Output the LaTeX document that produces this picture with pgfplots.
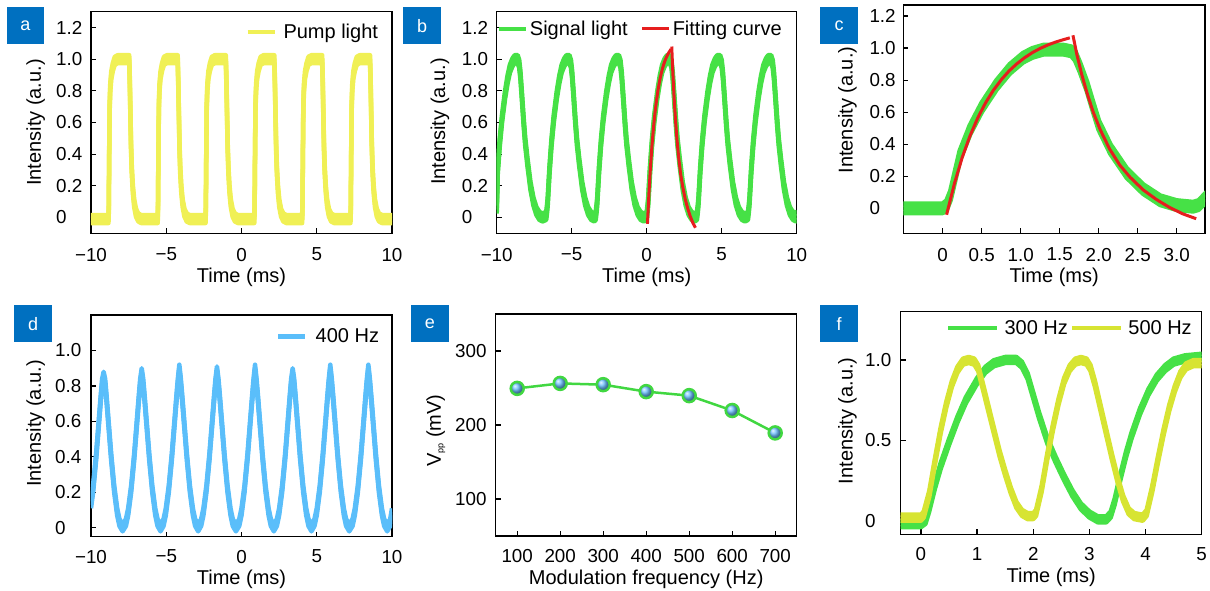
\documentclass[border=0pt]{standalone}
\usepackage{fontspec}
\setmainfont{Liberation Sans}
\usepackage{pgfplots}
\usepackage{pgfplotstable}
\pgfplotsset{compat=1.18}

\definecolor{pumpY}{RGB}{240,240,85}
\definecolor{sigG}{RGB}{70,225,70}
\definecolor{fitR}{RGB}{230,30,30}
\definecolor{dBlue}{RGB}{90,190,250}
\definecolor{fY}{RGB}{215,228,50}
\definecolor{eG}{RGB}{65,215,65}
\definecolor{eBall}{RGB}{105,190,255}
\definecolor{labBlue}{RGB}{0,112,192}

\newcommand{\band}[3]{%
  \addplot[#1, forget plot, yshift=#3] table {#2};
  \addplot[#1, forget plot, yshift=-#3] table {#2};
  \addplot[#1] table {#2};
}

\pgfplotstableread{
x y
-10 -0.01
-8.84 -0.01
-8.82 0.05
-8.79 0.4
-8.76 0.7
-8.72 0.82
-8.65 0.9
-8.55 0.95
-8.42 0.99
-8.22 1.0
-7.46 1.0
-7.42 0.85
-7.38 0.65
-7.34 0.45
-7.29 0.3
-7.22 0.18
-7.13 0.09
-7.01 0.03
-6.86 0.0
-6.66 -0.01
-5.57 -0.01
-5.55 0.05
-5.52 0.4
-5.49 0.7
-5.45 0.82
-5.38 0.9
-5.28 0.95
-5.15 0.99
-4.95 1.0
-4.24 1.0
-4.20 0.85
-4.16 0.65
-4.12 0.45
-4.07 0.3
-4.00 0.18
-3.91 0.09
-3.79 0.03
-3.64 0.0
-3.44 -0.01
-2.39 -0.01
-2.37 0.05
-2.34 0.4
-2.31 0.7
-2.27 0.82
-2.20 0.9
-2.10 0.95
-1.97 0.99
-1.77 1.0
-1.04 1.0
-1.00 0.85
-0.96 0.65
-0.92 0.45
-0.87 0.3
-0.80 0.18
-0.71 0.09
-0.59 0.03
-0.44 0.0
-0.24 -0.01
0.85 -0.01
0.87 0.05
0.90 0.4
0.93 0.7
0.97 0.82
1.04 0.9
1.14 0.95
1.27 0.99
1.47 1.0
2.18 1.0
2.22 0.85
2.26 0.65
2.30 0.45
2.35 0.3
2.42 0.18
2.51 0.09
2.63 0.03
2.78 0.0
2.98 -0.01
4.03 -0.01
4.05 0.05
4.08 0.4
4.11 0.7
4.15 0.82
4.22 0.9
4.32 0.95
4.45 0.99
4.65 1.0
5.36 1.0
5.40 0.85
5.44 0.65
5.48 0.45
5.53 0.3
5.60 0.18
5.69 0.09
5.81 0.03
5.96 0.0
6.16 -0.01
7.24 -0.01
7.26 0.05
7.29 0.4
7.32 0.7
7.36 0.82
7.43 0.9
7.53 0.95
7.66 0.99
7.86 1.0
8.54 1.0
8.58 0.85
8.62 0.65
8.66 0.45
8.71 0.3
8.78 0.18
8.87 0.09
8.99 0.03
9.14 0.0
9.34 -0.01
10 -0.01
}\pumpdata

\pgfplotstableread{
x y
-10 0.05
-9.93 0.3
-9.80 0.47
-9.65 0.62
-9.45 0.77
-9.28 0.87
-9.12 0.94
-8.95 0.98
-8.80 1.0
-8.60 1.0
-8.50 0.97
-8.42 0.9
-8.33 0.78
-8.20 0.6
-8.10 0.48
-7.95 0.35
-7.75 0.2
-7.55 0.1
-7.35 0.04
-7.15 0.01
-6.95 0.0
-6.70 0.01
-6.65 0.05
-6.60 0.1
-6.48 0.3
-6.35 0.47
-6.20 0.62
-6.00 0.77
-5.83 0.87
-5.67 0.94
-5.50 0.98
-5.35 1.0
-5.15 1.0
-5.05 0.97
-4.97 0.9
-4.88 0.78
-4.75 0.6
-4.65 0.48
-4.50 0.35
-4.30 0.2
-4.10 0.1
-3.90 0.04
-3.70 0.01
-3.50 0.0
-3.40 0.01
-3.35 0.05
-3.30 0.1
-3.18 0.3
-3.05 0.47
-2.90 0.62
-2.70 0.77
-2.53 0.87
-2.37 0.94
-2.20 0.98
-2.05 1.0
-1.85 1.0
-1.75 0.97
-1.67 0.9
-1.58 0.78
-1.45 0.6
-1.35 0.48
-1.20 0.35
-1.00 0.2
-0.80 0.1
-0.60 0.04
-0.40 0.01
-0.20 0.0
0.00 0.01
0.05 0.05
0.10 0.1
0.22 0.3
0.35 0.47
0.50 0.62
0.70 0.77
0.87 0.87
1.03 0.94
1.20 0.98
1.35 1.0
1.55 1.0
1.65 0.97
1.73 0.9
1.82 0.78
1.95 0.6
2.05 0.48
2.20 0.35
2.40 0.2
2.60 0.1
2.80 0.04
3.00 0.01
3.20 0.0
3.35 0.01
3.40 0.05
3.45 0.1
3.57 0.3
3.70 0.47
3.85 0.62
4.05 0.77
4.22 0.87
4.38 0.94
4.55 0.98
4.70 1.0
4.90 1.0
5.00 0.97
5.08 0.9
5.17 0.78
5.30 0.6
5.40 0.48
5.55 0.35
5.75 0.2
5.95 0.1
6.15 0.04
6.35 0.01
6.55 0.0
6.75 0.01
6.80 0.05
6.85 0.1
6.97 0.3
7.10 0.47
7.25 0.62
7.45 0.77
7.62 0.87
7.78 0.94
7.95 0.98
8.10 1.0
8.30 1.0
8.40 0.97
8.48 0.9
8.57 0.78
8.70 0.6
8.80 0.48
8.95 0.35
9.15 0.2
9.35 0.1
9.55 0.04
9.75 0.01
9.95 0.0
10 0.02
}\sigdata

\pgfplotstableread{
x y
0.05 -0.04
0.15 0.154
0.25 0.317
0.35 0.452
0.45 0.565
0.55 0.659
0.65 0.737
0.75 0.802
0.85 0.857
0.95 0.902
1.05 0.940
1.15 0.972
1.25 0.998
1.35 1.020
1.45 1.038
1.55 1.053
1.63 1.064
}\fitrise

\pgfplotstableread{
x y
1.67 1.08
1.72 0.96
1.78 0.84
1.85 0.72
1.93 0.60
2.02 0.49
2.14 0.37
2.27 0.27
2.40 0.195
2.57 0.115
2.74 0.055
2.91 0.005
3.08 -0.035
3.25 -0.065
}\fitfall

\pgfplotstableread{
x y
-0.55 0.0
0.00 0.0
0.05 0.02
0.10 0.08
0.22 0.33
0.35 0.49
0.50 0.63
0.69 0.77
0.86 0.87
1.03 0.94
1.15 0.97
1.29 0.99
1.55 0.99
1.65 0.98
1.70 0.95
1.76 0.88
1.85 0.76
1.93 0.63
2.00 0.52
2.15 0.37
2.36 0.22
2.57 0.12
2.79 0.05
3.00 0.02
3.21 0.01
3.28 0.02
3.32 0.04
3.40 0.08
}\cgreen

\pgfplotstableread{
x y
-10 0.13
-9.86 0.22
-9.66 0.4
-9.51 0.56
-9.36 0.72
-9.26 0.82
-9.16 0.86
-9.06 0.82
-8.96 0.72
-8.81 0.56
-8.66 0.4
-8.46 0.22
-8.26 0.09
-8.11 0.03
-7.90 0.0
-7.68 0.03
-7.53 0.09
-7.33 0.22
-7.13 0.4
-6.98 0.56
-6.83 0.72
-6.73 0.82
-6.63 0.88
-6.53 0.82
-6.43 0.72
-6.28 0.56
-6.13 0.4
-5.93 0.22
-5.73 0.09
-5.58 0.03
-5.38 0.0
-5.18 0.03
-5.03 0.09
-4.83 0.22
-4.63 0.4
-4.48 0.56
-4.33 0.72
-4.23 0.82
-4.13 0.9
-4.03 0.82
-3.93 0.72
-3.78 0.56
-3.63 0.4
-3.43 0.22
-3.23 0.09
-3.08 0.03
-2.88 0.0
-2.68 0.03
-2.53 0.09
-2.33 0.22
-2.13 0.4
-1.98 0.56
-1.83 0.72
-1.73 0.82
-1.63 0.89
-1.53 0.82
-1.43 0.72
-1.28 0.56
-1.13 0.4
-0.93 0.22
-0.73 0.09
-0.58 0.03
-0.37 0.0
-0.15 0.03
0.00 0.09
0.20 0.22
0.40 0.4
0.55 0.56
0.70 0.72
0.80 0.82
0.90 0.9
1.00 0.82
1.10 0.72
1.25 0.56
1.40 0.4
1.60 0.22
1.80 0.09
1.95 0.03
2.15 0.0
2.35 0.03
2.50 0.09
2.70 0.22
2.90 0.4
3.05 0.56
3.20 0.72
3.30 0.82
3.40 0.88
3.50 0.82
3.60 0.72
3.75 0.56
3.90 0.4
4.10 0.22
4.30 0.09
4.45 0.03
4.65 0.0
4.85 0.03
5.00 0.09
5.20 0.22
5.40 0.4
5.55 0.56
5.70 0.72
5.80 0.82
5.90 0.9
6.00 0.82
6.10 0.72
6.25 0.56
6.40 0.4
6.60 0.22
6.80 0.09
6.95 0.03
7.16 0.0
7.38 0.03
7.53 0.09
7.73 0.22
7.93 0.4
8.08 0.56
8.23 0.72
8.33 0.82
8.43 0.9
8.53 0.82
8.63 0.72
8.78 0.56
8.93 0.4
9.13 0.22
9.33 0.09
9.48 0.03
9.68 0.0
9.88 0.03
10 0.09
}\ddata

\pgfplotstableread{
x y
-0.40 -0.02
0.00 -0.02
0.08 0.0
0.15 0.08
0.25 0.22
0.35 0.34
0.50 0.49
0.65 0.63
0.80 0.75
1.00 0.87
1.15 0.94
1.30 0.98
1.50 1.0
1.70 1.0
1.80 0.97
1.90 0.9
2.00 0.78
2.10 0.66
2.25 0.5
2.40 0.38
2.55 0.27
2.70 0.17
2.85 0.09
3.00 0.04
3.15 0.01
3.30 0.01
3.38 0.04
3.45 0.12
3.55 0.27
3.65 0.41
3.75 0.53
3.90 0.68
4.05 0.8
4.20 0.89
4.35 0.95
4.50 0.99
4.70 1.01
5.00 1.02
}\fgreen

\pgfplotstableread{
x y
-0.40 0.02
0.00 0.02
0.05 0.04
0.15 0.17
0.25 0.37
0.35 0.56
0.45 0.72
0.55 0.85
0.65 0.94
0.75 0.99
0.85 1.0
0.95 0.99
1.02 0.95
1.10 0.84
1.20 0.7
1.30 0.56
1.40 0.42
1.50 0.3
1.60 0.19
1.70 0.1
1.80 0.05
1.90 0.03
2.00 0.03
2.05 0.05
2.15 0.2
2.25 0.4
2.35 0.58
2.45 0.74
2.55 0.87
2.65 0.95
2.75 0.99
2.85 1.0
2.95 0.99
3.02 0.95
3.10 0.85
3.20 0.7
3.30 0.55
3.40 0.4
3.50 0.26
3.60 0.14
3.70 0.06
3.80 0.03
3.95 0.02
4.02 0.05
4.12 0.2
4.22 0.38
4.32 0.55
4.42 0.7
4.52 0.82
4.62 0.91
4.72 0.96
4.85 0.98
5.00 0.98
}\fyellow

\pgfplotsset{
  panel/.style={
    scale only axis, anchor=south west,
    axis line style={line width=1.2pt},
    tick style={line width=1.2pt, black},
    major tick length=5pt,
    tick align=inside, tick pos=left,
    tick label style={font=\fontsize{18.8}{20}\selectfont},
    label style={font=\fontsize{20}{24}\selectfont},
    xticklabel style={anchor=north, inner sep=0pt},
    yticklabel style={anchor=west, inner sep=0pt},
    xlabel style={anchor=center},
    ylabel style={anchor=center},
    legend style={draw=none, fill=none, inner sep=0pt, outer sep=0pt, anchor=east,
      font=\fontsize{20}{24}\selectfont, nodes={inner sep=0pt}},
    legend cell align=left,
  },
}

\begin{document}
\begin{tikzpicture}
\useasboundingbox (0pt,0pt) rectangle (1210pt,590pt);

% ---- a ----
\begin{axis}[panel, at={(91pt,356.7pt)}, width=301pt, height=221.6pt,
  xmin=-10, xmax=10, ymin=-0.1, ymax=1.3,
  xtick={-10,-5,0,5,10}, xticklabels={−10,−5,0,5,10},
  ytick={0,0.2,0.4,0.6,0.8,1.0,1.2}, yticklabels={0,0.2,0.4,0.6,0.8,1.0,1.2},
  xticklabel style={yshift=-14.5pt}, yticklabel style={xshift=-35pt},
  xlabel={Time (ms)}, ylabel={Intensity (a.u.)},
  xlabel style={at={(axis description cs:0.5,-0.197)}},
  ylabel style={at={(axis description cs:-0.1834,0.5)}},
  legend style={at={(axis description cs:0.9535,0.908)},
    /tikz/every odd column/.append style={column sep=6.7pt}},
  legend image code/.code={\draw[#1] (0pt,0pt) -- (27pt,0pt);},
]
\band{pumpY, line width=4.5pt, line join=round}{\pumpdata}{4pt}
\legend{Pump light}
\end{axis}

% ---- b ----
\begin{axis}[panel, at={(496.7pt,356.7pt)}, width=300pt, height=221.6pt,
  xmin=-10, xmax=10, ymin=-0.1, ymax=1.3,
  xtick={-10,-5,0,5,10}, xticklabels={−10,−5,0,5,10},
  ytick={0,0.2,0.4,0.6,0.8,1.0,1.2}, yticklabels={0,0.2,0.4,0.6,0.8,1.0,1.2},
  xticklabel style={yshift=-14.5pt}, yticklabel style={xshift=-35pt},
  xlabel={Time (ms)}, ylabel={Intensity (a.u.)},
  xlabel style={at={(axis description cs:0.5,-0.197)}},
  ylabel style={at={(axis description cs:-0.189,0.504)}},
  legend style={at={(axis description cs:0.95,0.923)},
    /tikz/every odd column/.append style={column sep=2pt},
    /tikz/every even column/.append style={column sep=13pt}},
  legend columns=2,
  legend image code/.code={\draw[#1] (0pt,0pt) -- (27pt,0pt);},
]
\band{sigG, line width=4.5pt, line join=round}{\sigdata}{4pt}
\addplot[fitR, line width=3pt] table {\fitrise};
\addplot[fitR, line width=3pt, forget plot] table {\fitfall};
\legend{Signal light, Fitting curve}
\end{axis}

% ---- c ----
\begin{axis}[panel, at={(903.3pt,356.7pt)}, width=301.7pt, height=228.3pt,
  xmin=-0.505, xmax=3.363, ymin=-0.156, ymax=1.269,
  xtick={0,0.5,1,1.5,2,2.5,3}, xticklabels={0,0.5,1.0,1.5,2.0,2.5,3.0},
  ytick={0,0.2,0.4,0.6,0.8,1.0,1.2}, yticklabels={0,0.2,0.4,0.6,0.8,1.0,1.2},
  xticklabel style={yshift=-14.5pt}, yticklabel style={xshift=-34pt},
  xlabel={Time (ms)}, ylabel={Intensity (a.u.)},
  xlabel style={at={(axis description cs:0.5,-0.191)}},
  ylabel style={at={(axis description cs:-0.185,0.54)}},
]
\band{sigG, line width=5pt, line join=round}{\cgreen}{4.5pt}
\addplot[fitR, line width=3pt] table {\fitrise};
\addplot[fitR, line width=3pt] table {\fitfall};
\end{axis}

% ---- d ----
\begin{axis}[panel, at={(91pt,53.3pt)}, width=301pt, height=221.7pt,
  xmin=-10, xmax=10, ymin=-0.05, ymax=1.2,
  xtick={-10,-5,0,5,10}, xticklabels={−10,−5,0,5,10},
  ytick={0,0.2,0.4,0.6,0.8,1.0}, yticklabels={0,0.2,0.4,0.6,0.8,1.0},
  xticklabel style={yshift=-13pt}, yticklabel style={xshift=-36pt},
  xlabel={Time (ms)}, ylabel={Intensity (a.u.)},
  xlabel style={at={(axis description cs:0.5,-0.194)}},
  ylabel style={at={(axis description cs:-0.1834,0.511)}},
  legend style={at={(axis description cs:0.957,0.902)},
    /tikz/every odd column/.append style={column sep=8pt}},
  legend image code/.code={\draw[#1] (0pt,0pt) -- (27pt,0pt);},
]
\band{dBlue, line width=4.5pt, line join=round}{\ddata}{3.5pt}
\legend{400 Hz}
\end{axis}

% ---- e ----
\begin{axis}[panel, at={(495.7pt,54pt)}, width=301pt, height=222pt,
  xmin=50, xmax=750, ymin=50, ymax=350,
  xtick={100,200,300,400,500,600,700},
  ytick={100,200,300},
  xticklabels={100,200,300,400,500,600,700}, yticklabels={100,200,300},
  xticklabel style={yshift=-13pt}, yticklabel style={xshift=-40.7pt},
  xlabel={Modulation frequency (Hz)},
  ylabel={V{\fontsize{9}{9}\selectfont\raisebox{-2.5pt}{pp}} (mV)},
  xlabel style={at={(axis description cs:0.5,-0.194)}},
  ylabel style={at={(axis description cs:-0.199,0.474)}},
]
\addplot[eG, line width=2.5pt, mark=ball, mark size=6.5pt, mark options={ball color=eBall, draw=none}]
  coordinates {(100,249.5) (200,256.2) (300,254.5) (400,245.1) (500,239.7) (600,219.6) (700,189.3)};
\end{axis}

% ---- f ----
\begin{axis}[panel, at={(900.7pt,55.7pt)}, width=301pt, height=222.6pt,
  xmin=-0.36, xmax=5, ymin=-0.083, ymax=1.3,
  xtick={0,1,2,3,4,5}, xticklabels={0,1,2,3,4,5},
  ytick={0,0.5,1}, yticklabels={0,0.5,1.0},
  xticklabel style={yshift=-13pt}, yticklabel style={xshift=-35.7pt},
  xlabel={Time (ms)}, ylabel={Intensity (a.u.)},
  xlabel style={at={(axis description cs:0.5,-0.193)}},
  ylabel style={at={(axis description cs:-0.177,0.51)}},
  legend style={at={(axis description cs:0.967,0.927)},
    /tikz/every odd column/.append style={column sep=5pt},
    /tikz/every even column/.append style={column sep=2pt}},
  legend columns=2,
  legend image code/.code={\draw[#1] (0pt,0pt) -- (49pt,0pt);},
]
\band{sigG, line width=4.5pt, line join=round}{\fgreen}{3pt}
\band{fY, line width=4.5pt, line join=round}{\fyellow}{3pt}
\legend{300 Hz, 500 Hz}
\end{axis}

% ---- panel letters ----
\foreach \px/\py/\lab in {25.5/564.2/a, 422.2/564.2/b, 839.2/564.5/c, 33.2/266.2/d, 430/266.2/e, 839.2/266.2/f}{
  \node[fill=labBlue, minimum width=37.7pt, minimum height=37pt, inner sep=0pt,
        text=white, font=\fontsize{18}{18}\selectfont] at (\px pt,\py pt) {\lab};
}
\end{tikzpicture}
\end{document}
